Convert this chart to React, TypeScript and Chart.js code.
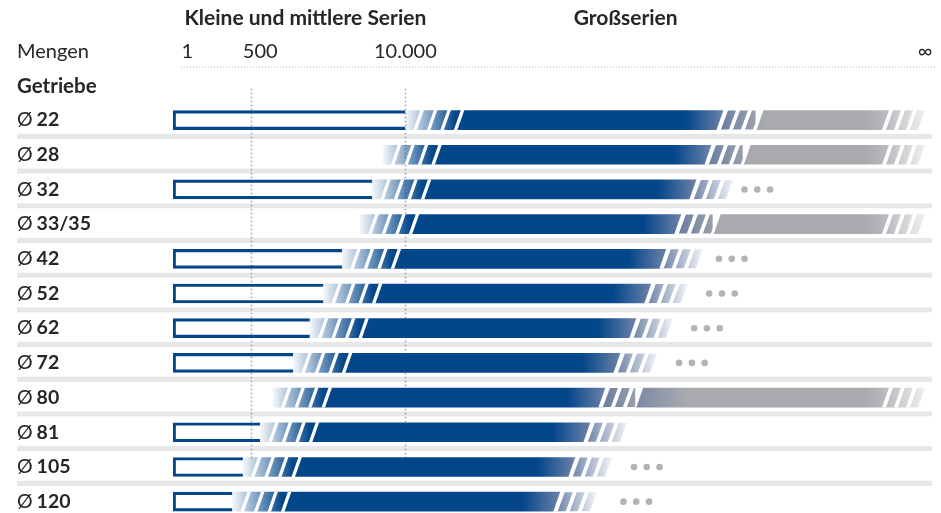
import React, { useEffect, useRef } from 'react';
import { Chart, registerables } from 'chart.js';

Chart.register(...registerables);

// ---------- data ----------
const categories = ['22', '28', '32', '33/35', '42', '52', '62', '72', '80', '81', '105', '120'];
// rows that show the outlined "small & medium series" bar
const hasOutline = [true, false, true, false, true, true, true, true, false, true, true, true];
// position scale 0..100 (1 … ∞)
const blueStart = [30.9, 27.9, 26.5, 24.9, 22.5, 20.0, 18.2, 16.0, 13.3, 11.6, 9.3, 7.9];
const blueEnd = [73.2, 71.6, 69.6, 67.6, 65.6, 63.6, 61.6, 59.5, 57.5, 55.5, 53.5, 51.5];
const greyStart: (number | null)[] = [77.6, 75.9, null, 71.9, null, null, null, null, 61.6, null, null, null];
const greyEnd = 100;
const dotsCenter: (number | null)[] = [null, null, 77.7, null, 74.3, 73.0, 71.0, 69.0, null, null, 63.0, 61.6];
const tickValues = [1.9, 11.6, 30.9, 100];
const tickLabels = ['1', '500', '10.000', '∞'];
const refLines = [10.4, 30.9]; // 500 and 10.000
const headerLeft = 'Kleine und mittlere Serien';
const headerRight = 'Großserien';
const axisTitle = 'Mengen';
const rowTitle = 'Getriebe';

// ---------- style ----------
const FONT = 'Lato, "Open Sans", sans-serif';
const BLUE = '#03468a';
const BLUE_END = '#6d82a8';
const GREY = '#a8aaad';
const BAND = '#e6e7e8';
const TEXT = '#262626';
const SL = 7; // slant of stripes
const DOT_STEP = 1.7;

const ok = (...v: number[]) => v.every((n) => Number.isFinite(n));

function para(ctx: CanvasRenderingContext2D, x1: number, x2: number, T: number, B: number) {
  ctx.beginPath();
  ctx.moveTo(x1, B);
  ctx.lineTo(x2, B);
  ctx.lineTo(x2 + SL, T);
  ctx.lineTo(x1 + SL, T);
  ctx.closePath();
}

const decoPlugin = {
  id: 'deco',
  beforeDatasetsDraw(chart: any) {
    const ctx: CanvasRenderingContext2D = chart.ctx;
    const xs = chart.scales.x;
    const ys = chart.scales.y;
    const ca = chart.chartArea;
    ctx.save();
    // separator bands
    ctx.fillStyle = BAND;
    for (let i = 0; i < categories.length - 1; i++) {
      const m = (ys.getPixelForValue(i) + ys.getPixelForValue(i + 1)) / 2;
      ctx.fillRect(17, m - 3.5, 915, 5);
    }
    // header dotted line
    ctx.strokeStyle = '#b8b8b8';
    ctx.lineWidth = 1;
    ctx.setLineDash([1, 2]);
    ctx.beginPath();
    ctx.moveTo(xs.left + 8, ca.top - 35.5);
    ctx.lineTo(935, ca.top - 35.5);
    ctx.stroke();
    // vertical reference lines
    ctx.strokeStyle = '#9c9c9c';
    ctx.lineWidth = 1.5;
    ctx.setLineDash([1.5, 2.5]);
    const yEnd = ys.getPixelForValue(categories.length - 1) - 42;
    refLines.forEach((v) => {
      const x = Math.round(xs.getPixelForValue(v)) + 0.5;
      ctx.beginPath();
      ctx.moveTo(x, ca.top - 14);
      ctx.lineTo(x, yEnd);
      ctx.stroke();
    });
    ctx.restore();
  },
  afterDatasetsDraw(chart: any) {
    const ctx: CanvasRenderingContext2D = chart.ctx;
    ctx.save();
    // blue bars: entry stripes, slanted end and fading tail
    const blueMeta = chart.getDatasetMeta(1);
    blueMeta.data.forEach((el: any, i: number) => {
      const { x, y, base, height } = el.getProps(['x', 'y', 'base', 'height'], true);
      if (!ok(x, y, base, height)) return;
      const T = y - height / 2;
      const B = y + height / 2;
      const L = base;
      const C = x;
      ctx.fillStyle = '#ffffff';
      for (let k = 0; k < 4; k++) {
        const g0 = L + 8 + 13.5 * k;
        para(ctx, g0, g0 + 3.5, T - 0.5, B + 0.5);
        ctx.fill();
      }
      ctx.beginPath();
      ctx.moveTo(C - SL, B + 0.5);
      ctx.lineTo(C + 1, B + 0.5);
      ctx.lineTo(C + 1, T - 0.5);
      ctx.lineTo(C, T - 0.5);
      ctx.closePath();
      ctx.fill();
      const toGrey = greyStart[i] != null;
      const tg = ctx.createLinearGradient(C - SL, 0, C + 38, 0);
      tg.addColorStop(0, '#647aa2');
      tg.addColorStop(1, toGrey ? '#a2a6ad' : '#f6f7fa');
      ctx.fillStyle = tg;
      for (let k = 0; k < 3; k++) {
        const s = C - SL + 4.5 + 12 * k;
        para(ctx, s, s + 8, T, B);
        ctx.fill();
      }
    });
    // grey bars: slanted start, fading striped tail
    const greyMeta = chart.getDatasetMeta(2);
    greyMeta.data.forEach((el: any, i: number) => {
      if (greyStart[i] == null) return;
      const { x, y, base, height } = el.getProps(['x', 'y', 'base', 'height'], true);
      if (!ok(x, y, base, height)) return;
      const T = y - height / 2;
      const B = y + height / 2;
      const G = base;
      const E = x;
      ctx.fillStyle = '#ffffff';
      ctx.beginPath();
      ctx.moveTo(G - 1, T - 0.5);
      ctx.lineTo(G + SL, T - 0.5);
      ctx.lineTo(G, B + 0.5);
      ctx.lineTo(G - 1, B + 0.5);
      ctx.closePath();
      ctx.fill();
      for (let k = 0; k < 3; k++) {
        const g0 = E - SL - 36 + 12 * k;
        para(ctx, g0, g0 + 4, T - 0.5, B + 0.5);
        ctx.fill();
      }
      ctx.beginPath();
      ctx.moveTo(E - SL, B + 0.5);
      ctx.lineTo(E + 1, B + 0.5);
      ctx.lineTo(E + 1, T - 0.5);
      ctx.lineTo(E, T - 0.5);
      ctx.closePath();
      ctx.fill();
    });
    ctx.restore();
  },
  afterDraw(chart: any) {
    const ctx: CanvasRenderingContext2D = chart.ctx;
    const xs = chart.scales.x;
    const ys = chart.scales.y;
    const ca = chart.chartArea;
    ctx.save();
    ctx.fillStyle = TEXT;
    ctx.textBaseline = 'middle';
    // headers
    ctx.font = `700 21px ${FONT}`;
    ctx.textAlign = 'center';
    ctx.fillText(headerLeft, xs.getPixelForValue(17.6), 18);
    ctx.fillText(headerRight, xs.getPixelForValue(60.2), 18);
    ctx.textAlign = 'left';
    ctx.font = `400 20px ${FONT}`;
    ctx.fillText(axisTitle, 17, ca.top - 51);
    ctx.font = `700 20.5px ${FONT}`;
    ctx.fillText(rowTitle, 17, ca.top - 16);
    // row labels
    categories.forEach((c, i) => {
      const y = ys.getPixelForValue(i);
      ctx.font = `400 19.5px ${FONT}`;
      ctx.fillText('Ø', 17, y);
      const w = ctx.measureText('Ø').width;
      ctx.font = `700 19.5px ${FONT}`;
      ctx.fillText(c, 17 + w + 4, y);
    });
    ctx.restore();
  },
};

export default function App() {
  const ref = useRef<HTMLCanvasElement>(null);

  useEffect(() => {
    const canvas = ref.current;
    if (!canvas) return;

    const outlineData = categories.map((_, i) => (hasOutline[i] ? [0, blueStart[i]] : null));
    const blueData = categories.map((_, i) => [blueStart[i], blueEnd[i]]);
    const greyData = categories.map((_, i) => (greyStart[i] == null ? null : [greyStart[i], greyEnd]));
    const dotData: { x: number; y: string }[] = [];
    categories.forEach((c, i) => {
      const d = dotsCenter[i];
      if (d != null) [-1, 0, 1].forEach((k) => dotData.push({ x: d + k * DOT_STEP, y: c }));
    });

    const blueFill = (context: any) => {
      const chart = context.chart;
      const xs = chart.scales && chart.scales.x;
      if (!xs || !Array.isArray(context.raw)) return BLUE;
      const [a, c] = context.raw as number[];
      const x0 = xs.getPixelForValue(a);
      const x1 = xs.getPixelForValue(c);
      if (!ok(x0, x1) || x1 <= x0) return BLUE;
      const len = x1 - x0;
      const g = chart.ctx.createLinearGradient(x0, 0, x1, 0);
      g.addColorStop(0, 'rgba(3,70,138,0.04)');
      g.addColorStop(Math.min(0.5, 50 / len), BLUE);
      g.addColorStop(Math.max(0.5, 1 - 38 / len), BLUE);
      g.addColorStop(1, BLUE_END);
      return g;
    };

    const greyFill = (context: any) => {
      const chart = context.chart;
      const xs = chart.scales && chart.scales.x;
      if (!xs || !Array.isArray(context.raw)) return GREY;
      const [a, c] = context.raw as number[];
      const x0 = xs.getPixelForValue(a);
      const x1 = xs.getPixelForValue(c);
      if (!ok(x0, x1) || x1 - x0 < 80) return GREY;
      const len = x1 - x0;
      const g = chart.ctx.createLinearGradient(x0, 0, x1, 0);
      const fromBlue = a < 65;
      g.addColorStop(0, fromBlue ? '#7b89a6' : '#a4a6aa');
      g.addColorStop(Math.min(0.3, (fromBlue ? 50 : 10) / len), GREY);
      g.addColorStop(1 - 60 / len, GREY);
      g.addColorStop(1 - 38 / len, '#b9bbbe');
      g.addColorStop(1, '#f0f0f0');
      return g;
    };

    const chart = new Chart(canvas, {
      type: 'bar',
      data: {
        labels: categories,
        datasets: [
          {
            label: 'Kleine und mittlere Serien',
            data: outlineData as any,
            backgroundColor: 'rgba(255,255,255,0)',
            borderColor: BLUE,
            borderWidth: 2.5,
            borderSkipped: 'right',
            barThickness: 19,
            grouped: false,
          } as any,
          {
            label: 'Serienfertigung',
            data: blueData as any,
            backgroundColor: blueFill,
            borderWidth: 0,
            barThickness: 19,
            grouped: false,
          } as any,
          {
            label: 'Großserien',
            data: greyData as any,
            backgroundColor: greyFill,
            borderWidth: 0,
            barThickness: 19,
            grouped: false,
          } as any,
          {
            type: 'line',
            label: 'weiter',
            data: dotData as any,
            showLine: false,
            pointRadius: 3.3,
            pointBackgroundColor: '#b1b3b6',
            pointBorderWidth: 0,
            borderColor: '#b1b3b6',
          } as any,
        ],
      },
      options: {
        indexAxis: 'y',
        responsive: true,
        maintainAspectRatio: false,
        animation: false,
        layout: { padding: { left: 173, right: 16, top: 1.3, bottom: 0 }, autoPadding: false },
        plugins: {
          legend: { display: false },
          tooltip: { enabled: false },
          title: { display: false },
        },
        events: [],
        scales: {
          x: {
            type: 'linear',
            position: 'top',
            min: 0,
            max: 100,
            grid: { display: false, drawTicks: false },
            border: { display: false },
            afterBuildTicks: (scale: any) => {
              scale.ticks = tickValues.map((v) => ({ value: v }));
            },
            afterFit: (scale: any) => {
              scale.paddingLeft = 0;
              scale.paddingRight = 0;
            },
            ticks: {
              autoSkip: false,
              maxRotation: 0,
              padding: 38.7,
              color: TEXT,
              font: { family: FONT, size: 20, weight: 400 },
              callback: (_v: any, idx: number) => tickLabels[idx],
            },
          },
          y: {
            type: 'category',
            display: false,
          },
        },
      } as any,
      plugins: [decoPlugin],
    });

    return () => chart.destroy();
  }, []);

  return (
    <div style={{ position: 'absolute', left: 0, top: 0, width: 941, height: 513, overflow: 'hidden', background: '#fff' }}>
      <div style={{ position: 'relative', width: 941, height: 519 }}>
        <canvas ref={ref} />
      </div>
    </div>
  );
}
